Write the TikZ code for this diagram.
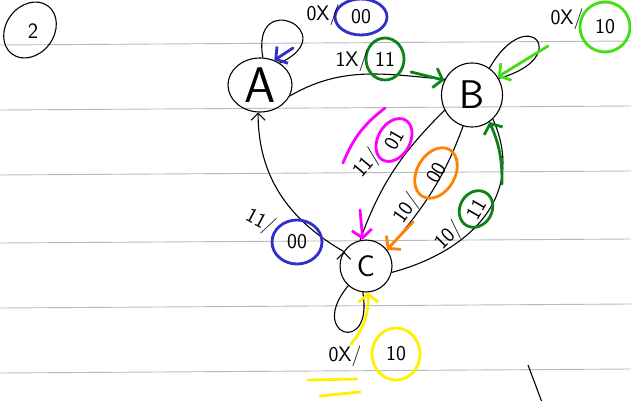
\documentclass[tikz,border=0pt]{standalone}
\usetikzlibrary{arrows.meta,shapes.geometric}
\begin{document}
\begin{tikzpicture}[x=1pt,y=1pt]
\definecolor{penblue}{RGB}{48,48,200}
\definecolor{pengreen}{RGB}{14,130,22}
\definecolor{penlime}{RGB}{64,224,18}
\definecolor{penpink}{RGB}{255,0,255}
\definecolor{penorange}{RGB}{255,130,0}
\definecolor{penyellow}{RGB}{255,240,0}
\tikzstyle{ruled}=[gray!55,line width=0.9pt]
\tikzstyle{ink}=[black,line width=1.1pt]
\tikzstyle{state}=[ink,draw,ellipse,inner sep=0pt,font=\sffamily]
\tikzstyle{txt}=[inner sep=0pt,font=\sffamily\fontsize{21}{21}\selectfont]
\tikzstyle{ring}=[txt,draw,ellipse,line width=2.8pt]
\tikzstyle{felt}=[line width=2.8pt,line cap=round,line join=round]
\tikzstyle{pointer}=[felt,-{Straight Barb[length=8pt,width=20pt]}]
\tikzstyle{trans}=[ink,-{Straight Barb[length=7pt,width=14pt]}]
\useasboundingbox (0,0) rectangle (631,-401);
\fill[white] (0,0) rectangle (631,-401);
\foreach \y in {43,108,173,241,306,371}
  \draw[ruled] (0,-\y-2) -- (631,-\y+2);
\node[ink,draw,ellipse,minimum width=60,minimum height=48,rotate=53] (page) at (30,-30) {};
\node[txt,font=\sffamily\fontsize{22}{22}\selectfont] (pagenum) at (33,-31) {2};
\node[state,minimum width=64,minimum height=54] (A) at (260,-85) {\fontsize{50}{50}\selectfont A};
\node[state,minimum width=61,minimum height=64] (B) at (472,-95) {\fontsize{40}{40}\selectfont B};
\node[state,minimum width=52,minimum height=52] (C) at (366,-266) {\fontsize{30}{30}\selectfont C};
\draw[ink] (A.84) edge[out=100,in=25,min distance=72] (A.48);
\draw[ink] (B.57) edge[out=60,in=15,min distance=78] (B.32);
\draw[ink] (C.228) edge[out=230,in=280,min distance=65] (C.263);
\draw[ink] (A.-20) edge[out=30,in=175] (B.150);
\draw[trans] (C.147) edge[out=150,in=270] (A.266);
\draw[ink] (B.209) edge[out=225,in=70] (C.103);
\draw[ink] (B.254) edge[out=250,in=50] (C.36);
\draw[ink] (C.346) edge[out=15,in=-66,looseness=1.15] (B.311);
\node[ring,draw=penblue,minimum width=52,minimum height=36] (oA) at (361,-17) {00};
\node[txt] (iA) at (323,-15) {0X/};
\node[ring,draw=pengreen,minimum width=38,minimum height=42] (oAB) at (385,-59) {11};
\node[txt] (iAB) at (352,-61) {1X/};
\node[ring,draw=penlime,minimum width=50,minimum height=50] (oB) at (605,-27) {10};
\node[txt] (iB) at (567,-19) {0X/};
\node[ring,draw=penyellow,minimum width=48,minimum height=52] (oC) at (396,-354) {10};
\node[txt] (iC) at (345,-356) {0X/};
\node[ring,draw=penblue,minimum width=50,minimum height=44] (oCA) at (297,-242) {00};
\node[txt,rotate=-28] (iCA) at (260,-222) {11/};
\node[ring,draw=penpink,minimum width=46,minimum height=32,rotate=60] (oBC1) at (394,-140) {01};
\node[txt,rotate=50] (iBC1) at (367,-164) {11/};
\node[ring,draw=penorange,minimum width=54,minimum height=38,rotate=60] (oBC2) at (436,-173) {00};
\node[txt,rotate=55] (iBC2) at (407,-209) {10/};
\node[ring,draw=pengreen,minimum width=38,minimum height=32,rotate=60] (oCB) at (476,-209) {11};
\node[txt,rotate=45] (iCB) at (449,-236) {10/};
\coordinate (bA) at (293,-48);
\draw[pointer,penblue] (bA) -- (A.60);
\coordinate (gAB) at (411,-72);
\draw[pointer,pengreen] (gAB) -- (B.152);
\coordinate (lB) at (548,-46);
\draw[pointer,penlime] (lB) -- (B.35);
\coordinate (pC) at (360,-210);
\draw[pointer,penpink] (pC) -- (C.97);
\draw[felt,penpink] (343,-163) to[bend left=15] (385,-108);
\coordinate (orC) at (413,-222);
\draw[pointer,penorange] (orC) -- (C.38);
\coordinate (gCB) at (502,-184);
\draw[pointer,pengreen] (gCB) to[bend right=12] (B.303);
\coordinate (yC) at (351,-344);
\draw[pointer,penyellow] (yC) to[out=50,in=270] (C.275);
\draw[felt,penyellow] (308,-380) -- (357,-379);
\draw[felt,penyellow] (320,-396) -- (360,-392);
\draw[ink] (528,-365) -- (543,-405);
\end{tikzpicture}
\end{document}
